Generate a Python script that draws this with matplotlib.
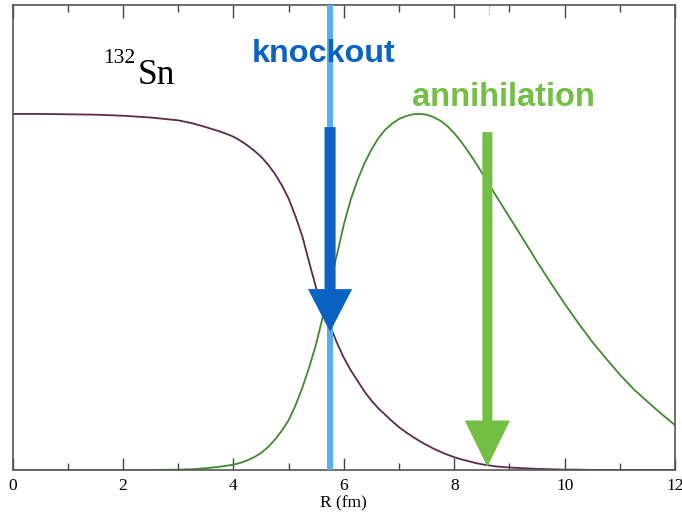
#!/usr/bin/env python3
import matplotlib
matplotlib.use("Agg")
import matplotlib.pyplot as plt
from matplotlib.ticker import MultipleLocator

# radial grid (fm)
r_fm = [0.0, 0.5, 1.0, 1.5, 2.0, 2.5, 3.0, 3.25, 3.5, 3.625, 3.75, 3.875,
        4.0, 4.125, 4.25, 4.375, 4.5, 4.625, 4.75, 4.875,
        5.0, 5.125, 5.25, 5.375, 5.5, 5.625, 5.75, 5.875,
        6.0, 6.125, 6.25, 6.375, 6.5, 6.625, 6.75, 6.875,
        7.0, 7.125, 7.25, 7.375, 7.5, 7.625, 7.75, 7.875,
        8.0, 8.125, 8.25, 8.375, 8.5, 8.75, 9.0, 9.25, 9.5, 9.75,
        10.0, 10.25, 10.5, 10.75, 11.0, 11.25, 11.5, 11.75, 12.0]

# nuclear density (normalised)
density = [1.000, 1.000, 0.999, 0.998, 0.995, 0.990, 0.982, 0.974, 0.963, 0.957, 0.951, 0.944,
           0.936, 0.925, 0.912, 0.897, 0.880, 0.858, 0.832, 0.800,
           0.762, 0.712, 0.655, 0.581, 0.510, 0.455, 0.405, 0.357,
           0.315, 0.280, 0.250, 0.220, 0.195, 0.173, 0.155, 0.137,
           0.120, 0.106, 0.093, 0.081, 0.070, 0.060, 0.051, 0.043,
           0.036, 0.030, 0.025, 0.020, 0.016, 0.010, 0.007, 0.005, 0.003, 0.002,
           0.001, 0.001, 0.000, 0.000, 0.000, 0.000, 0.000, 0.000, 0.000]

# annihilation probability (normalised)
annihilation = [0.000, 0.000, 0.000, 0.000, 0.000, 0.000, 0.001, 0.002, 0.005, 0.007, 0.009, 0.012,
                0.015, 0.020, 0.027, 0.036, 0.048, 0.064, 0.085, 0.110,
                0.140, 0.182, 0.232, 0.290, 0.355, 0.435, 0.525, 0.605,
                0.690, 0.760, 0.815, 0.862, 0.900, 0.932, 0.956, 0.973,
                0.986, 0.994, 0.999, 1.000, 0.998, 0.991, 0.981, 0.966,
                0.946, 0.922, 0.895, 0.866, 0.835, 0.772, 0.710, 0.648, 0.585, 0.525,
                0.467, 0.412, 0.360, 0.313, 0.268, 0.227, 0.192, 0.158, 0.126]

knockout_r = 5.75
annihilation_r = 8.6

PURPLE = "#5b2a4c"
GREEN = "#3f8a2f"
LIGHT_BLUE = "#5aabf0"
DARK_BLUE = "#0a62c2"
LIGHT_GREEN = "#72bf44"

serif = ["Liberation Serif", "DejaVu Serif"]
sans = ["Liberation Sans", "DejaVu Sans"]

fig = plt.figure(figsize=(6.82, 5.15), dpi=100)
ax = fig.add_axes([0.0186, 0.0874, 0.9712, 0.9029])

ax.axvline(knockout_r, color=LIGHT_BLUE, lw=4.3, zorder=3)
ax.plot(r_fm, density, color=PURPLE, lw=1.3, zorder=2)
ax.plot(r_fm, annihilation, color=GREEN, lw=1.3, zorder=2)

ax.arrow(knockout_r, 0.963, 0, 0.388 - 0.963, width=0.2, head_width=0.8,
         head_length=0.12, length_includes_head=True, color=DARK_BLUE, lw=0, zorder=4)
ax.arrow(annihilation_r, 0.949, 0, 0.009 - 0.949, width=0.18, head_width=0.82,
         head_length=0.13, length_includes_head=True, color=LIGHT_GREEN, lw=0, zorder=4)
ax.plot([annihilation_r + 0.03] * 2, [1.306, 1.28], color=LIGHT_GREEN, lw=0.8,
        ls=(0, (2, 1)), alpha=0.7, zorder=1)

ax.text(5.64, 1.147, "knockout", color=DARK_BLUE, fontsize=23.3, fontweight="bold",
        family=sans, ha="center", va="baseline", zorder=5)
ax.text(8.9, 1.021, "annihilation", color=LIGHT_GREEN, fontsize=23.5, fontweight="bold",
        family=sans, ha="center", va="baseline", zorder=5)
ax.text(2.27, 1.084, "Sn", fontsize=25.5, family=serif, ha="left", va="baseline")
ax.text(1.636, 1.143, "132", fontsize=15.5, family=serif, ha="left", va="baseline")

ax.set_xlim(0, 12)
ax.set_ylim(0, 1.306)
ax.xaxis.set_major_locator(MultipleLocator(2))
ax.xaxis.set_minor_locator(MultipleLocator(1))
ax.tick_params(axis="x", which="both", direction="in", top=True, bottom=True,
               colors="#444444", labelcolor="black", labelsize=12.5, pad=6)
ax.tick_params(axis="x", which="major", length=9, width=1)
ax.tick_params(axis="x", which="minor", length=5, width=1)
ax.tick_params(axis="y", left=False, labelleft=False)
for lab in ax.get_xticklabels():
    lab.set_family(serif)
for s in ax.spines.values():
    s.set_color("#555555")
    s.set_linewidth(1.2)
ax.set_xlabel("R (fm)", fontsize=12.5, family=serif, labelpad=1)

fig.savefig("out.png", dpi=100)
